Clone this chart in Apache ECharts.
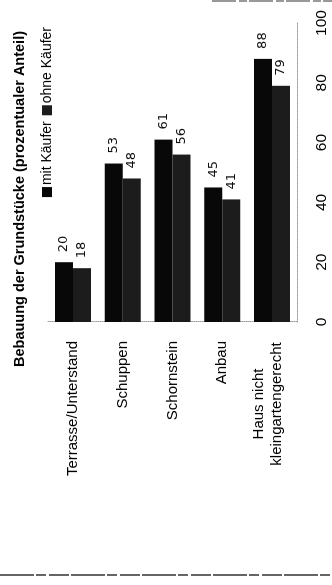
<!DOCTYPE html>
<html>
<head>
<meta charset="utf-8">
<script src="https://cdn.jsdelivr.net/npm/echarts@6/dist/echarts.min.js"></script>
<style>
html,body{margin:0;padding:0;background:#fff;overflow:hidden;width:332px;height:585px;}
#c{position:absolute;left:0;top:0;width:585px;height:332px;transform-origin:0 0;transform:translate(0,585px) rotate(-90deg);}
</style>
</head>
<body>
<div id="c"></div>
<script>
var titleText = 'Bebauung der Grundstücke (prozentualer Anteil)';
var categories = ['Terrasse/Unterstand', 'Schuppen', 'Schornstein', 'Anbau', 'Haus nicht\nkleingartengerecht'];
var seriesNames = ['mit Käufer', 'ohne Käufer'];
var mitKaeufer = [20, 53, 61, 45, 88];
var ohneKaeufer = [18, 48, 56, 41, 79];
var valueTicks = [0, 20, 40, 60, 80, 100];

var FONT = '"Liberation Sans", Arial, sans-serif';
var chart = echarts.init(document.getElementById('c'), null, {renderer: 'canvas'});
var barLabel = {show: true, position: 'right', distance: 10, color: '#111', fontSize: 13, fontFamily: '"DejaVu Sans", sans-serif', fontWeight: 'normal'};
chart.setOption({
  animation: false,
  backgroundColor: '#fff',
  title: {
    text: titleText, right: 26, top: 7,
    textStyle: {fontFamily: FONT, fontSize: 14.5, fontWeight: 'bold', color: '#000'}
  },
  legend: {
    data: seriesNames, right: 22, top: 35, icon: 'rect', itemWidth: 10, itemHeight: 10, itemGap: 6,
    textStyle: {fontFamily: FONT, fontSize: 14, color: '#000', padding: [0,0,0,-3]}
  },
  grid: {left: 263, right: 23, top: 48, bottom: 35, containLabel: false},
  xAxis: {
    type: 'value', min: valueTicks[0], max: valueTicks[valueTicks.length-1], interval: 20, position: 'bottom',
    axisLine: {show: true, lineStyle: {type: 'dotted', color: '#9a9a9a', width: 1}},
    axisTick: {show: false}, splitLine: {show: false},
    axisLabel: {fontFamily: FONT, fontSize: 15.5, color: '#000', margin: 17}
  },
  yAxis: {
    type: 'category', data: categories, inverse: true,
    axisLine: {show: true, lineStyle: {type: 'dotted', color: '#9a9a9a', width: 1}},
    axisTick: {show: false},
    axisLabel: {
      fontFamily: FONT, fontSize: 15, color: '#000', margin: 19, lineHeight: 18,
      formatter: function (v) {
        if (v.indexOf('\n') < 0) return v;
        return v.split('\n').map(function (s) { return '{c|' + s + '}'; }).join('\n') + '\n{e|}';
      },
      rich: {
        c: {fontFamily: FONT, fontSize: 15, color: '#000', align: 'center', width: 126, lineHeight: 18},
        e: {fontSize: 6, lineHeight: 9, width: 126}
      }
    }
  },
  graphic: [
    {type: 'line', silent: true, shape: {x1: 10, y1: 0, x2: 10, y2: 332}, style: {stroke: '#333', lineWidth: 1.5, lineDash: [34, 2, 10, 3, 20, 2]}},
    {type: 'line', silent: true, shape: {x1: 584, y1: 212, x2: 584, y2: 332}, style: {stroke: '#555', lineWidth: 1.2, lineDash: [24, 3, 8, 2]}}
  ],
  series: [
    {name: seriesNames[0], type: 'bar', data: mitKaeufer, barWidth: 18, barGap: '0%', itemStyle: {color: '#080808'}, label: barLabel},
    {name: seriesNames[1], type: 'bar', data: ohneKaeufer, barWidth: 18, barGap: '0%', itemStyle: {color: '#1c1c1c'}, label: barLabel}
  ]
});
</script>
</body>
</html>
